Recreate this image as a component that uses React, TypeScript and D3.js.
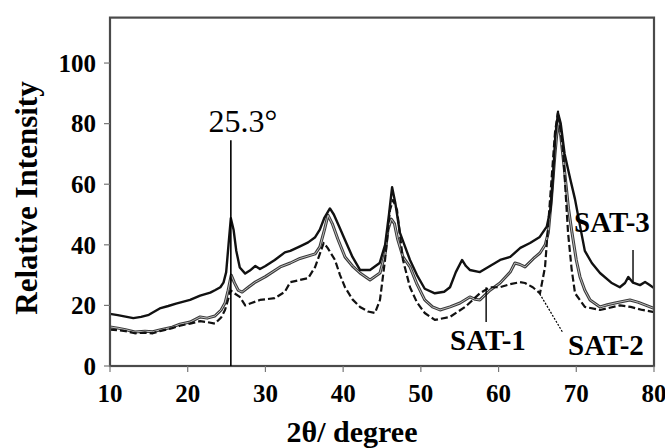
import React from "react";
import * as d3 from "d3";

const xTicks = [10, 20, 30, 40, 50, 60, 70, 80];
const yTicks = [0, 20, 40, 60, 80, 100];

const sat3X = [10, 11, 12, 13, 14, 15, 16.4, 17.5, 18.5, 20.3, 21.6, 22.9, 23.5, 24.2, 24.6, 24.95, 25.25, 25.55, 25.9, 26.25, 26.7, 27.4, 28, 28.7, 29.3, 30, 31.2, 32.5, 33.2, 34.45, 35.5, 36.4, 37, 37.6, 38.3, 38.8, 39.5, 40.24, 41.2, 42.17, 43.46, 44.7, 45.4, 45.9, 46.3, 46.7, 47.3, 48.6, 49.5, 50.5, 51.8, 53, 53.75, 54.5, 55.3, 55.8, 56.3, 57.6, 58.9, 60.2, 61.5, 62.8, 64.05, 65.3, 66.2, 66.7, 67.0, 67.3, 67.65, 68.0, 68.5, 69.2, 69.84, 70.5, 71.1, 72, 73.05, 74.5, 75.6, 76.27, 76.7, 77.3, 78.2, 78.85, 79.4, 80];
const sat3Y = [17.2, 16.8, 16.3, 15.8, 16.2, 16.9, 19, 19.8, 20.6, 21.8, 23.2, 24.2, 25, 26, 27.5, 31, 40, 48.8, 45, 38, 32.5, 30.5, 31.5, 33, 32, 33, 35, 37.5, 38, 39.5, 40.8, 42.5, 45, 49, 52, 50, 46, 41.6, 36, 31.7, 31.7, 34, 40, 50, 59, 54, 44, 35, 30, 25.5, 24, 24.5, 26, 31, 35, 33, 31.7, 31, 33, 35, 36, 39, 40.6, 42.6, 46, 52, 62, 76, 83.5, 80, 70, 62, 55, 46, 38, 34, 30.7, 27.5, 26, 27.4, 29.4, 27.5, 26.7, 27.7, 26.8, 25.7];

const sat1X = [10, 11, 12, 13.2, 14.5, 15.5, 16.4, 18, 19, 20.3, 21.6, 22.5, 23.5, 24.3, 24.8, 25.2, 25.6, 26, 26.5, 27, 27.8, 28.7, 30, 31.9, 33.2, 34.45, 36.4, 37, 37.6, 38.05, 38.6, 39.3, 40.24, 41.2, 42.17, 43.46, 44.74, 45.4, 45.77, 46.2, 46.6, 47.0, 47.7, 48.6, 49.5, 50.5, 51.5, 52.47, 53.75, 55.04, 56.3, 57.0, 57.6, 58.9, 60.19, 61.5, 62.1, 62.76, 63.4, 64.5, 65.33, 66, 66.4, 66.8, 67.26, 67.65, 68.0, 68.55, 69.0, 69.45, 70.0, 70.48, 71.1, 71.77, 73.05, 74, 75, 76.9, 78, 79, 80];
const sat1Y = [12.9, 12.5, 12, 11.2, 11.5, 11.3, 11.9, 12.8, 13.8, 14.5, 16.2, 15.8, 16.5, 18.5, 20.8, 25, 30, 27.5, 25, 24.4, 26, 27.7, 29.5, 32.7, 34, 35.5, 37, 39.3, 45, 49.8, 47, 42, 36, 33, 30.7, 28.4, 30.7, 37, 45, 48.5, 47, 42, 36, 32.7, 27, 21.8, 19.5, 18.5, 19.5, 20.8, 22.8, 22, 21.8, 25, 27.4, 31, 34, 33.5, 32.7, 35.5, 37.3, 40, 44, 55, 70, 81, 76, 63, 52, 44, 35, 29.4, 25, 21.8, 19.5, 20.2, 20.8, 21.8, 21, 20, 19];

const sat2X = [10, 11, 12, 13.2, 14.5, 15.5, 16.4, 18, 19, 20.3, 21.6, 22.5, 23.5, 24.3, 24.8, 25.2, 25.5, 26, 26.7, 27.4, 28.2, 29.3, 31.2, 32.5, 33.2, 34.45, 35.5, 36.4, 37.0, 37.5, 38.0, 38.95, 39.6, 40.24, 41.2, 42.17, 43.2, 44.1, 44.74, 45.39, 46.03, 46.42, 46.93, 47.7, 48.6, 49.5, 50.5, 51.8, 53.75, 55.7, 57.6, 58.9, 60.19, 61.5, 62.76, 63.4, 64.4, 65.33, 65.98, 66.62, 67.26, 67.65, 68.3, 68.94, 69.4, 69.84, 71.1, 73.05, 75.63, 77, 78.5, 80];
const sat2Y = [12, 11.8, 11.5, 10.8, 11, 10.8, 11.5, 12.5, 13.3, 14, 14.8, 14.5, 14, 16, 18.5, 22, 25, 24, 22.8, 20, 20.8, 21.8, 22.4, 24.5, 27.7, 28.4, 29, 32.7, 37, 40.6, 39, 35, 30, 26, 22, 19.5, 18, 17.5, 21.8, 35, 51.5, 54.8, 51.5, 35, 26, 21, 17.5, 15.2, 16.2, 19.5, 24, 26, 26, 27, 27.7, 27.4, 26, 24, 32.7, 54.8, 77, 84, 71, 44, 32, 24, 19.5, 18.5, 20, 19.5, 18.5, 17.8];

const peakLabel = "25.3°";
const peakPos = 25.55;
const peakTop = 74.5;
const sat3Tick = { x: 77.3, y1: 38.3, y2: 27.7 };
const sat1Tick = { x: 58.4, y1: 26, y2: 14.5 };
const sat2Lead = { x1: 65.3, y1: 23.8, x2: 68.3, y2: 10.9 };

const W = 665;
const H = 448;

export default function App() {
  const x = d3.scaleLinear().domain([10, 80]).range([110, 654]);
  const y = d3.scaleLinear().domain([0, 115]).range([366, 17.6]);
  const mk = (xs: number[], ys: number[]) =>
    d3.line<number>().x((d) => x(xs[d])).y((d) => y(ys[d]))(d3.range(xs.length)) || "";

  const serif = "'Liberation Serif', 'Times New Roman', serif";

  return (
    <svg width={W} height={H} style={{ position: "absolute", left: 0, top: 0, background: "#fff" }} fontFamily={serif}>
      <rect x={0} y={0} width={W} height={H} fill="#fff" />
      {/* curves */}
      <path d={mk(sat1X, sat1Y)} fill="none" stroke="#3a3a3a" strokeWidth={3} strokeLinejoin="round" />
      <path d={mk(sat1X, sat1Y)} fill="none" stroke="#bdbdbd" strokeWidth={1} strokeLinejoin="round" />
      <path d={mk(sat2X, sat2Y)} fill="none" stroke="#111" strokeWidth={2.2} strokeDasharray="7,3" strokeLinejoin="round" />
      <path d={mk(sat3X, sat3Y)} fill="none" stroke="#111" strokeWidth={2.4} strokeLinejoin="round" />
      {/* frame */}
      <rect x={x(10)} y={y(115)} width={x(80) - x(10)} height={y(0) - y(115)} fill="none" stroke="#4a4a4a" strokeWidth={2.2} />
      {/* ticks */}
      {xTicks.map((t) => (
        <g key={"x" + t}>
          <line x1={x(t)} x2={x(t)} y1={y(0)} y2={y(0) + 6} stroke="#777" strokeWidth={1.2} />
          <text x={x(t)} y={402} textAnchor="middle" fontSize={25} fontWeight="bold">{t}</text>
        </g>
      ))}
      {yTicks.map((t) => (
        <g key={"y" + t}>
          <line x1={x(10) - 6} x2={x(10)} y1={y(t)} y2={y(t)} stroke="#777" strokeWidth={1.2} />
          <text x={96} y={y(t)} dy="0.35em" textAnchor="end" fontSize={25} fontWeight="bold">{t}</text>
        </g>
      ))}
      <text x={352} y={442} textAnchor="middle" fontSize={30} fontWeight="bold">2θ/ degree</text>
      <text transform={`translate(37,198) rotate(-90)`} textAnchor="middle" fontSize={31} fontWeight="bold">Relative Intensity</text>
      {/* annotations */}
      <line x1={x(peakPos)} x2={x(peakPos)} y1={y(peakTop)} y2={y(0)} stroke="#000" strokeWidth={1.6} />
      <text x={243} y={132} textAnchor="middle" fontSize={32}>{peakLabel}</text>
      <line x1={x(sat3Tick.x)} x2={x(sat3Tick.x)} y1={y(sat3Tick.y1)} y2={y(sat3Tick.y2)} stroke="#000" strokeWidth={1.4} />
      <line x1={x(sat1Tick.x)} x2={x(sat1Tick.x)} y1={y(sat1Tick.y1)} y2={y(sat1Tick.y2)} stroke="#000" strokeWidth={1.4} />
      <line x1={x(sat2Lead.x1)} x2={x(sat2Lead.x2)} y1={y(sat2Lead.y1)} y2={y(sat2Lead.y2)} stroke="#000" strokeWidth={1.2} strokeDasharray="2,1.5" />
      <text x={612} y={232} textAnchor="middle" fontSize={29} fontWeight="bold">SAT-3</text>
      <text x={488} y={350} textAnchor="middle" fontSize={29} fontWeight="bold">SAT-1</text>
      <text x={606} y={355} textAnchor="middle" fontSize={29} fontWeight="bold">SAT-2</text>
    </svg>
  );
}
